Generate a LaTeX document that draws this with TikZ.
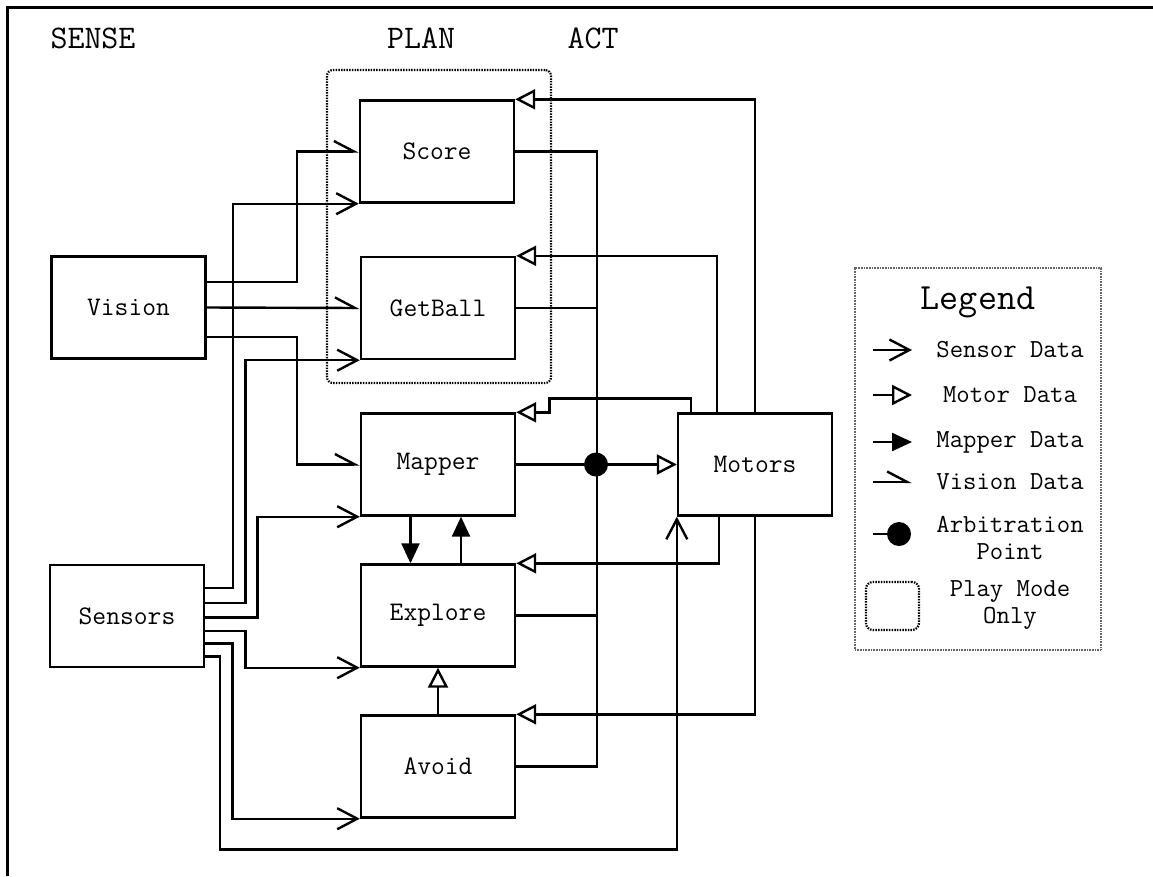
\documentclass[tikz,border=0pt]{standalone}
\usepackage{fontspec}
\usetikzlibrary{arrows.meta}
\tikzset{
  blk/.style={draw, line width=2.4pt, minimum width=154pt, minimum height=102pt, inner sep=0pt, font=\ttfamily\fontsize{26.8}{30}\selectfont},
  ttl/.style={inner sep=0pt, font=\ttfamily\fontsize{33}{36}\selectfont},
  lgtxt/.style={inner sep=0pt, align=center, font=\ttfamily\fontsize{26}{27}\selectfont},
  wire/.style={line width=2.4pt},
  sens/.style={wire, -{Straight Barb[length=20pt,width=21pt]}},
  vis/.style={wire, -{Straight Barb[left,length=20pt,width=21pt]}},
  mot/.style={wire, -{Triangle[open,length=20pt,width=20pt,fill=white]}},
  mapd/.style={wire, -{Triangle[length=20pt,width=18pt]}},
  arbdot/.style={circle, fill=black, minimum size=24pt, inner sep=0pt},
  playbox/.style={draw, line width=2.2pt, dash pattern=on 1.5pt off 1.2pt, rounded corners=6pt, inner sep=0pt},
  legbox/.style={draw=black!60, line width=2.2pt, dash pattern=on 1pt off 0.6pt, inner sep=0pt}
}
\begin{document}
\begin{tikzpicture}[x=1pt,y=-1pt]
\useasboundingbox (0,0) rectangle (1153,876);
% frame
\draw[line width=3pt] (7,876) -- (7,7) -- (1153,7);

% titles
\node[ttl] (tsense) at (93,38) {SENSE};
\node[ttl] (tplan) at (421,38) {PLAN};
\node[ttl] (tact) at (593,38) {ACT};

% play mode box
\node[playbox, minimum width=224pt, minimum height=313pt] (play) at (439,226.5) {};

% boxes
\node[blk] (Vision) at (128.5,307.5) {Vision};
\node[blk] (Sensors) at (127,616) {Sensors};
\node[blk] (Score) at (437,151.5) {Score};
\node[blk] (GetBall) at (438,308) {GetBall};
\node[blk] (Mapper) at (438,464.5) {Mapper};
\node[blk] (Explore) at (438,615.5) {Explore};
\node[blk] (Avoid) at (438,766.5) {Avoid};
\node[blk] (Motors) at (755,464.5) {Motors};

% vision outputs
\draw[vis] ([yshift=25.5pt]Vision.east) -- (297,282) |- (Score.west);
\draw[vis] (Vision.east) -- (GetBall.west);
\draw[vis] ([yshift=-29.5pt]Vision.east) -- (297,337) |- (Mapper.west);

% sensor outputs
\draw[sens] ([yshift=28pt]Sensors.east) -- (233,588) |- (Score.south west);
\draw[sens] ([yshift=13pt]Sensors.east) -- (245.5,603) |- (GetBall.south west);
\draw[sens] ([yshift=-1.5pt]Sensors.east) -- (257.5,617.5) |- (Mapper.south west);
\draw[sens] ([yshift=-15pt]Sensors.east) -- (245.5,631) |- (Explore.south west);
\draw[sens] ([yshift=-27.5pt]Sensors.east) -- (232.5,643.5) |- (Avoid.south west);
\draw[sens] ([yshift=-40.5pt]Sensors.east) -- (220,656.5) -- (220,849.5) -| (Motors.south west);

% plan outputs bus
\draw[wire] (Score.east) -- (597,151.5) -- (597,766.5) -- (Avoid.east);
\draw[wire] (GetBall.east) -- (597,308);
\draw[wire] (Explore.east) -- (597,615.5);

% arbitration
\node[arbdot] (arb) at (596,464.5) {};
\draw[wire] (Mapper.east) -- (arb);
\draw[mot] (arb) -- (Motors.west);

% motor outputs
\draw[mot] (Motors.north) |- (Score.north east);
\draw[mot] ([xshift=-38pt]Motors.north) |- (GetBall.north east);
\draw[mot] ([xshift=-64pt]Motors.north) -- (691,398.5) -- (549.5,398.5) |- (Mapper.north east);
\draw[mot] ([xshift=-36pt]Motors.south) |- (Explore.north east);
\draw[mot] (Motors.south) |- (Avoid.north east);

% mapper <-> explore, avoid -> explore
\draw[mapd] ([xshift=-27.5pt]Mapper.south) -- ([xshift=-27.5pt]Explore.north);
\draw[mapd] ([xshift=23pt]Explore.north) -- ([xshift=23pt]Mapper.south);
\draw[mot] (Avoid.north) -- (Explore.south);

% legend
\node[legbox, minimum width=246pt, minimum height=382pt] (legend) at (978,459) {};
\node[inner sep=0pt, font=\ttfamily\fontsize{37}{40}\selectfont] (leghead) at (978,302) {Legend};
\coordinate (ls1) at (873,350); \coordinate (le1) at (912,350);
\coordinate (ls2) at (873,395); \coordinate (le2) at (912,395);
\coordinate (ls3) at (873,442); \coordinate (le3) at (912,442);
\coordinate (ls4) at (873,482); \coordinate (le4) at (912,482);
\coordinate (ls5) at (873,534);
\draw[sens] (ls1) -- (le1);
\draw[mot] (ls2) -- (le2);
\draw[mapd] (ls3) -- (le3);
\draw[vis] (ls4) -- (le4);
\node[arbdot] (legarb) at (899,534) {};
\draw[wire] (ls5) -- (legarb);
\node[playbox, minimum width=53pt, minimum height=48pt, rounded corners=7pt] (legplay) at (892.5,606) {};
\node[lgtxt] (lt1) at (1010,350) {Sensor Data};
\node[lgtxt] (lt2) at (1010,395) {Motor Data};
\node[lgtxt] (lt3) at (1010,442) {Mapper Data};
\node[lgtxt] (lt4) at (1010,482) {Vision Data};
\node[lgtxt] (lt5) at (1010,538) {Arbitration\\Point};
\node[lgtxt] (lt6) at (1010,605) {Play Mode\\Only};
\end{tikzpicture}
\end{document}
